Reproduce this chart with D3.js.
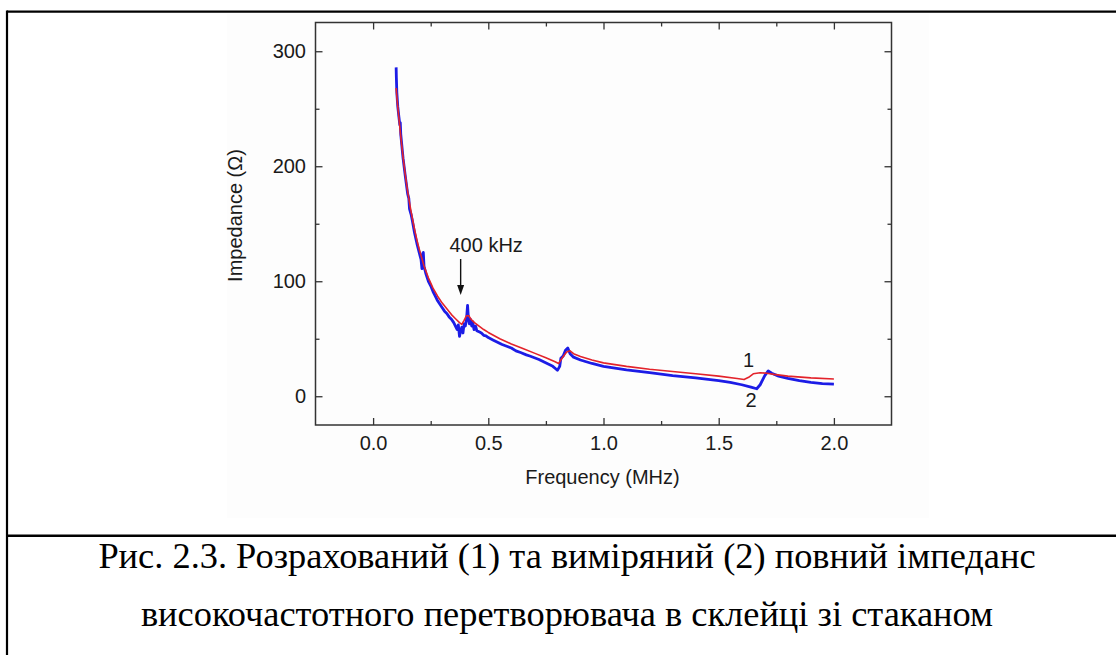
<!DOCTYPE html>
<html>
<head>
<meta charset="utf-8">
<script src="https://cdn.jsdelivr.net/npm/d3@7"></script>
<style>
  html, body { margin: 0; padding: 0; background: #ffffff; }
  svg { display: block; }
</style>
</head>
<body>
<svg id="chart" width="1116" height="655"></svg>
<script>
// ---------------- data ----------------
// curve 1: calculated impedance (frequency in MHz, impedance in Ohm)
const calcFreq = [0.100,0.105,0.110,0.115,0.120,0.130,0.140,0.150,0.160,0.170,0.180,0.190,0.200,0.220,0.240,0.260,0.280,0.300,0.320,0.340,0.360,0.375,0.385,0.395,0.405,0.415,0.425,0.440,0.460,0.480,0.500,0.550,0.600,0.650,0.700,0.750,0.790,0.805,0.820,0.840,0.855,0.870,0.900,0.950,1.000,1.100,1.200,1.300,1.400,1.500,1.580,1.610,1.630,1.650,1.680,1.710,1.740,1.800,1.900,2.000];
const calcZ    = [268,256,246,236,226,208,192,178,166,155,145,136,128,114,103,94,87,81,76,71,67,64,62.5,66,70,70,67,64,61,58,55.5,50,45.5,41.5,37.5,33.5,30,28.5,33,38.5,39.5,37,34.5,31.5,29,26,23.5,21.5,19.5,17.5,15.5,14.5,16.5,19.5,20.5,20,19,17.5,16,15];

// curve 2: measured impedance
const measFreq = [0.100,0.101,0.103,0.107,0.112,0.116,0.118,0.120,0.130,0.140,0.150,0.155,0.158,0.165,0.170,0.180,0.190,0.200,0.208,0.212,0.215,0.218,0.221,0.230,0.240,0.250,0.260,0.270,0.280,0.290,0.300,0.310,0.320,0.330,0.340,0.350,0.360,0.365,0.370,0.375,0.380,0.385,0.390,0.395,0.400,0.405,0.410,0.413,0.418,0.422,0.428,0.432,0.438,0.445,0.450,0.460,0.470,0.480,0.490,0.500,0.520,0.540,0.560,0.580,0.600,0.620,0.640,0.665,0.680,0.700,0.720,0.740,0.760,0.780,0.795,0.800,0.810,0.815,0.825,0.835,0.845,0.855,0.870,0.900,0.950,1.000,1.100,1.200,1.300,1.400,1.500,1.550,1.600,1.640,1.665,1.680,1.700,1.715,1.730,1.760,1.800,1.850,1.900,1.950,2.000];
const measZ    = [286,277,264,252,243,236,238,228,207,191,176,172,163,158,153,142,133,125,119,111,124,125,113,106,100,96,91,87,83,80,77,74,72,69,67,64,60,58,62,52,57,60,55,63,61,66,79,70,63,67,61,65,58,61,57,56,55,53,52.5,51,49,47,45,43.5,42,39.5,38,36,35,33.5,32,30,28,26,23.5,22.5,26,33,35,40,42,37,34,31.5,28.5,26,23,20.5,18,16,13.5,12,10,8,6.5,10,18,22,20,17.5,15.5,13.5,12,11,10.5];

const xMajorTicks = [0.0, 0.5, 1.0, 1.5, 2.0];
const xMinorTicks = [0.25, 0.75, 1.25, 1.75];
const yMajorTicks = [0, 100, 200, 300];
const yMinorTicks = [50, 150, 250];

const xTitle = "Frequency (MHz)";
const yTitle = "Impedance (Ω)";
const annotation = "400 kHz";
const annotationFreq = 0.38;
const captionLines = [
  "Рис. 2.3. Розрахований (1) та виміряний (2) повний імпеданс",
  "високочастотного перетворювача в склейці зі стаканом"
];

// ---------------- layout ----------------
const svg = d3.select("#chart");
const sans = "'Liberation Sans', Arial, sans-serif";
const serif = "'Liberation Serif', 'Times New Roman', serif";
const axisColor = "#333";
const textColor = "#1a1a1a";

const x = d3.scaleLinear().domain([-0.25, 2.25]).range([315.5, 891.5]);
const y = d3.scaleLinear().domain([-25, 325]).range([425, 22.5]);

// outer page frame (document table)
svg.append("rect").attr("x", 227).attr("y", 14).attr("width", 702).attr("height", 504).attr("fill", "#fdfdfd");
svg.append("line").attr("x1", 7).attr("x2", 1116).attr("y1", 11.7).attr("y2", 11.7).attr("stroke", "#000").attr("stroke-width", 2.2);
svg.append("line").attr("x1", 7).attr("x2", 7).attr("y1", 10.6).attr("y2", 655).attr("stroke", "#000").attr("stroke-width", 2.2);
svg.append("line").attr("x1", 6).attr("x2", 1116).attr("y1", 535.7).attr("y2", 535.7).attr("stroke", "#000").attr("stroke-width", 2.5);

// axes
function styleAxis(g, showLabels) {
  g.select(".domain").remove();
  g.selectAll(".tick line").attr("stroke", axisColor).attr("stroke-width", 1.3);
  g.selectAll(".tick text").attr("fill", textColor).style("font-family", sans).style("font-size", "20px");
  if (!showLabels) g.selectAll(".tick text").remove();
}
const fmt = d3.format(".1f");

svg.append("g").attr("transform", `translate(0,${y.range()[0]})`)
  .call(d3.axisBottom(x).tickValues(xMajorTicks).tickSize(-7).tickPadding(11).tickFormat(fmt))
  .call(g => styleAxis(g, true));
svg.append("g").attr("transform", `translate(0,${y.range()[0]})`)
  .call(d3.axisBottom(x).tickValues(xMinorTicks).tickSize(-4))
  .call(g => styleAxis(g, false));
svg.append("g").attr("transform", `translate(0,${y.range()[1]})`)
  .call(d3.axisTop(x).tickValues(xMajorTicks).tickSize(-7))
  .call(g => styleAxis(g, false));
svg.append("g").attr("transform", `translate(0,${y.range()[1]})`)
  .call(d3.axisTop(x).tickValues(xMinorTicks).tickSize(-4))
  .call(g => styleAxis(g, false));

svg.append("g").attr("transform", `translate(${x.range()[0]},0)`)
  .call(d3.axisLeft(y).tickValues(yMajorTicks).tickSize(-7).tickPadding(9.5).tickFormat(d3.format("d")))
  .call(g => styleAxis(g, true));
svg.append("g").attr("transform", `translate(${x.range()[0]},0)`)
  .call(d3.axisLeft(y).tickValues(yMinorTicks).tickSize(-4))
  .call(g => styleAxis(g, false));
svg.append("g").attr("transform", `translate(${x.range()[1]},0)`)
  .call(d3.axisRight(y).tickValues(yMajorTicks).tickSize(-7))
  .call(g => styleAxis(g, false));
svg.append("g").attr("transform", `translate(${x.range()[1]},0)`)
  .call(d3.axisRight(y).tickValues(yMinorTicks).tickSize(-4))
  .call(g => styleAxis(g, false));

// frame
svg.append("rect")
  .attr("x", x.range()[0]).attr("y", y.range()[1])
  .attr("width", x.range()[1] - x.range()[0]).attr("height", y.range()[0] - y.range()[1])
  .attr("fill", "none").attr("stroke", axisColor).attr("stroke-width", 1.5);

// curves
const line = d3.line().x(d => x(d[0])).y(d => y(d[1]));
const measData = measFreq.map((f, i) => [f, measZ[i]]);
const calcData = calcFreq.map((f, i) => [f, calcZ[i]]);
svg.append("path").datum(measData).attr("d", line)
  .attr("fill", "none").attr("stroke", "#1c1ce6").attr("stroke-width", 2.8).attr("stroke-linejoin", "round");
svg.append("path").datum(calcData).attr("d", line)
  .attr("fill", "none").attr("stroke", "#e3232b").attr("stroke-width", 1.6).attr("stroke-linejoin", "round");

// axis titles
svg.append("text").attr("x", (x.range()[0] + x.range()[1]) / 2 - 1).attr("y", 484)
  .attr("text-anchor", "middle").attr("fill", textColor)
  .style("font-family", sans).style("font-size", "20px").text(xTitle);
svg.append("text").attr("transform", "translate(242,215.5) rotate(-90)")
  .attr("text-anchor", "middle").attr("fill", textColor)
  .style("font-family", sans).style("font-size", "20px").text(yTitle);

// annotation 400 kHz with arrow
svg.append("text").attr("x", x(annotationFreq) + 25.5).attr("y", 252)
  .attr("text-anchor", "middle").attr("fill", textColor)
  .style("font-family", sans).style("font-size", "20px").text(annotation);
const ax = x(annotationFreq);
svg.append("line").attr("x1", ax).attr("x2", ax).attr("y1", 259).attr("y2", 287)
  .attr("stroke", "#111").attr("stroke-width", 1.4);
svg.append("path").attr("d", `M${ax - 3.5},${285} L${ax + 3.5},${285} L${ax},${295} Z`).attr("fill", "#111");

// curve labels
svg.append("text").attr("x", x(1.63)).attr("y", 367).attr("text-anchor", "middle").attr("fill", textColor)
  .style("font-family", sans).style("font-size", "20px").text("1");
svg.append("text").attr("x", x(1.64)).attr("y", 407).attr("text-anchor", "middle").attr("fill", textColor)
  .style("font-family", sans).style("font-size", "20px").text("2");

// caption
const capY = [568, 626];
captionLines.forEach((t, i) => {
  svg.append("text").attr("x", 567).attr("y", capY[i]).attr("text-anchor", "middle")
    .attr("fill", "#000").style("font-family", serif).style("font-size", "36.4px").text(t);
});
</script>
</body>
</html>
